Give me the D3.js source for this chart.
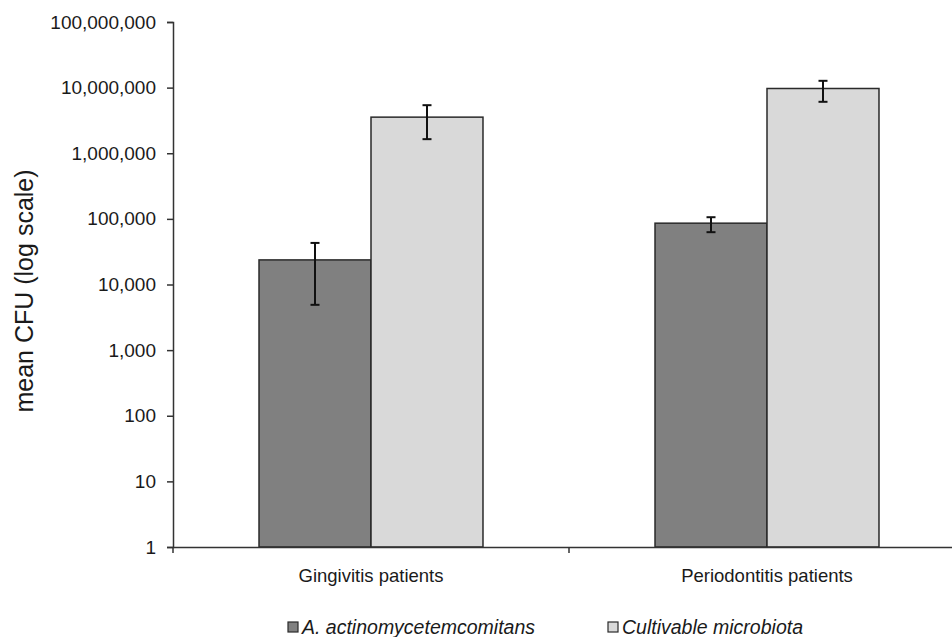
<!DOCTYPE html>
<html>
<head>
<meta charset="utf-8">
<script src="https://cdn.jsdelivr.net/npm/d3@7"></script>
<style>
  html, body { margin: 0; padding: 0; background: #fff; }
  svg { display: block; font-family: "Liberation Sans", Arial, sans-serif; }
</style>
</head>
<body>
<svg id="chart" width="952" height="637"></svg>
<script>
// ---- data ----
const categories = ["Gingivitis patients", "Periodontitis patients"];
const seriesNames = ["A. actinomycetemcomitans", "Cultivable microbiota"];
const aaMean = [23700, 86000];
const aaLow = [4900, 62700];
const aaHigh = [43000, 106000];
const cultMean = [3550000, 9700000];
const cultLow = [1640000, 6080000];
const cultHigh = [5400000, 12700000];
const yTicks = [1, 10, 100, 1000, 10000, 100000, 1000000, 10000000, 100000000];
const yTitle = "mean CFU (log scale)";

const seriesColors = ["#808080", "#d9d9d9"];

const svg = d3.select("#chart");
const mLeft = 173, mRight = 965, mTop = 22, mBottom = 547;

const x0 = d3.scaleBand().domain(categories).range([mLeft, mRight]).paddingInner(0).paddingOuter(0);
const x1 = d3.scaleBand().domain(seriesNames).range([0, x0.bandwidth()]).paddingInner(0).paddingOuter(0.768);
const y = d3.scaleLog().domain([1, 100000000]).range([mBottom, mTop]);

const rows = [];
categories.forEach((c, i) => {
  rows.push({cat: c, s: seriesNames[0], v: aaMean[i], lo: aaLow[i], hi: aaHigh[i], col: seriesColors[0]});
  rows.push({cat: c, s: seriesNames[1], v: cultMean[i], lo: cultLow[i], hi: cultHigh[i], col: seriesColors[1]});
});

// bars
svg.append("g").selectAll("rect").data(rows).join("rect")
  .attr("x", d => x0(d.cat) + x1(d.s))
  .attr("y", d => y(d.v))
  .attr("width", x1.bandwidth())
  .attr("height", d => y(1) - y(d.v))
  .attr("fill", d => d.col)
  .attr("stroke", "#2a2a2a")
  .attr("stroke-width", 1.5);

// error bars
const eb = svg.append("g").attr("stroke", "#111").attr("stroke-width", 2);
rows.forEach(d => {
  const cx = x0(d.cat) + x1(d.s) + x1.bandwidth() / 2;
  eb.append("line").attr("x1", cx).attr("x2", cx).attr("y1", y(d.hi)).attr("y2", y(d.lo));
  eb.append("line").attr("x1", cx - 4.5).attr("x2", cx + 4.5).attr("y1", y(d.hi)).attr("y2", y(d.hi));
  eb.append("line").attr("x1", cx - 4.5).attr("x2", cx + 4.5).attr("y1", y(d.lo)).attr("y2", y(d.lo));
});

// y axis
const yAxis = d3.axisLeft(y).tickValues(yTicks).tickFormat(d3.format(",")).tickSizeOuter(0).tickSize(6).tickPadding(11);
const gy = svg.append("g").attr("transform", `translate(${mLeft},0)`).call(yAxis);
gy.select(".domain").attr("stroke", "#333").attr("stroke-width", 1.5);
gy.selectAll(".tick line").attr("stroke", "#333").attr("stroke-width", 1.5);
gy.selectAll(".tick text").attr("font-size", 19).attr("fill", "#1a1a1a")
  .attr("font-family", "'Liberation Sans', Arial, sans-serif");

// x axis
const xAxis = d3.axisBottom(x0).tickSize(0).tickSizeOuter(0).tickPadding(22);
const gx = svg.append("g").attr("transform", `translate(0,${mBottom})`).call(xAxis);
gx.select(".domain").attr("stroke", "#333").attr("stroke-width", 1.5);
gx.selectAll(".tick text").attr("font-size", 18.5).attr("fill", "#1a1a1a")
  .attr("font-family", "'Liberation Sans', Arial, sans-serif");
// category boundary tick marks
const bounds = [x0.range()[0], x0(categories[1])];
gx.selectAll("line.sep").data(bounds).join("line").attr("class", "sep")
  .attr("x1", d => d).attr("x2", d => d).attr("y1", 0).attr("y2", 6)
  .attr("stroke", "#333").attr("stroke-width", 1.5);

// y title
svg.append("text")
  .attr("transform", `translate(33,291) rotate(-90)`)
  .attr("text-anchor", "middle")
  .attr("font-size", 25)
  .attr("fill", "#1a1a1a")
  .text(yTitle);

// legend
const legendX = [288, 608];
const lg = svg.append("g");
seriesNames.forEach((s, i) => {
  lg.append("rect").attr("x", legendX[i]).attr("y", 622).attr("width", 10).attr("height", 10)
    .attr("fill", seriesColors[i]).attr("stroke", "#2a2a2a").attr("stroke-width", 1.2);
  lg.append("text").attr("x", legendX[i] + 14).attr("y", 634)
    .attr("font-size", 19.5).attr("font-style", "italic").attr("fill", "#1a1a1a").text(s);
});
</script>
</body>
</html>
